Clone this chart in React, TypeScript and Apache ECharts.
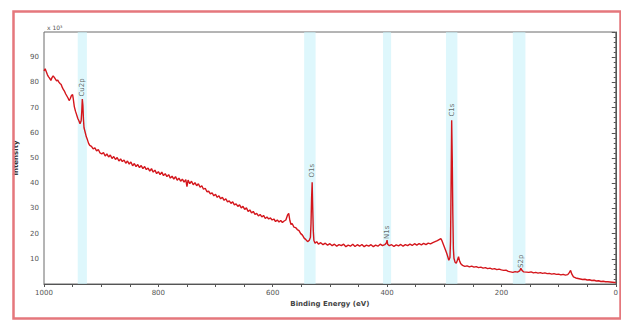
import React, { useEffect, useRef } from "react";
import * as echarts from "echarts";

const energies = [
  1000, 998, 996, 994, 992, 990, 988, 986, 984, 982, 980, 978, 976, 974, 972, 970, 968, 966, 964, 962,
  960, 958, 956, 954, 952, 950, 949, 947, 945, 943, 941, 939, 937, 935, 934, 933, 932, 931, 930, 928,
  926, 924, 922, 920, 917, 914, 911, 908, 905, 902, 899, 896, 893, 890, 887, 884, 881, 878, 875, 872,
  869, 866, 863, 860, 857, 854, 851, 848, 845, 842, 839, 836, 833, 830, 827, 824, 821, 818, 815, 812,
  809, 806, 803, 800, 797, 794, 791, 788, 785, 782, 779, 776, 773, 770, 767, 764, 761, 758, 755, 752,
  750, 748, 745, 742, 739, 736, 733, 730, 727, 724, 721, 718, 715, 712, 709, 706, 703, 700, 697, 694,
  691, 688, 685, 682, 679, 676, 673, 670, 667, 664, 661, 658, 655, 652, 649, 646, 643, 640, 637, 634,
  631, 628, 625, 622, 619, 616, 613, 610, 607, 604, 601, 598, 595, 592, 589, 586, 583, 580, 577, 574,
  572, 570, 568, 566, 563, 560, 557, 554, 551, 548, 545, 542, 539, 536, 534, 533, 532, 531, 530, 529,
  528, 526, 523, 520, 516, 512, 508, 504, 500, 496, 492, 488, 484, 480, 476, 472, 468, 464, 460, 456,
  452, 448, 444, 440, 436, 432, 428, 424, 420, 416, 412, 408, 404, 401, 400, 399, 396, 392, 388, 384,
  380, 376, 372, 368, 364, 360, 356, 352, 348, 344, 340, 336, 332, 328, 324, 320, 316, 312, 309, 306,
  304, 302, 300, 298, 296, 294, 292, 290, 289, 288, 287, 286, 285, 284, 283, 281, 279, 277, 275, 273,
  271, 268, 264, 260, 256, 252, 248, 244, 240, 236, 232, 228, 224, 220, 216, 212, 208, 204, 200, 196,
  192, 188, 184, 180, 176, 172, 168, 166, 164, 161, 156, 152, 148, 144, 140, 136, 132, 128, 124, 120,
  116, 112, 108, 104, 100, 96, 92, 88, 84, 81, 79, 77, 74, 70, 66, 62, 58, 54, 50, 46,
  42, 38, 34, 30, 26, 22, 18, 14, 10, 6, 2, 0,
];

const intensities = [
  84.6, 85.4, 84.2, 83.0, 82.2, 81.6, 80.8, 81.9, 82.6, 82.0, 81.3, 80.6, 80.9, 80.1, 79.6, 79.2, 78.0, 77.1, 76.4, 75.4,
  74.6, 73.8, 72.8, 73.6, 74.8, 75.2, 73.8, 70.4, 68.6, 67.2, 65.8, 64.8, 63.6, 64.8, 68.2, 73.4, 71.0, 65.4, 62.0, 60.2,
  58.4, 57.2, 55.8, 55.0, 54.6, 53.6, 54.0, 52.8, 53.4, 52.0, 51.6, 52.2, 50.8, 51.6, 50.4, 51.2, 49.8, 50.6, 49.4, 50.2,
  48.8, 49.6, 48.6, 49.2, 47.9, 48.8, 47.6, 48.4, 46.9, 47.8, 46.6, 47.4, 46.2, 47.0, 45.8, 46.6, 45.4, 46.0, 44.8, 45.8,
  44.4, 45.2, 43.8, 44.6, 43.4, 44.4, 43.0, 43.8, 42.6, 43.4, 42.0, 42.8, 41.6, 42.6, 41.2, 42.0, 40.8, 41.6, 40.4, 41.4,
  38.6, 41.2, 39.8, 40.8, 39.4, 40.2, 39.0, 39.8, 38.4, 39.0, 37.6, 38.0, 36.6, 36.8, 35.8, 36.2, 35.0, 35.6, 34.4, 35.0,
  33.8, 34.4, 33.2, 33.8, 32.6, 33.0, 32.0, 32.6, 31.4, 31.8, 30.8, 31.4, 30.2, 30.8, 29.6, 30.2, 28.8, 29.4, 28.2, 28.8,
  27.6, 28.0, 27.0, 27.6, 26.6, 27.2, 26.0, 26.6, 25.8, 26.2, 25.4, 25.8, 24.8, 25.4, 24.6, 25.2, 24.4, 25.0, 25.4, 27.4,
  28.0, 25.2, 23.6, 24.0, 22.6, 22.4, 21.6, 21.2, 20.0, 19.4, 18.2, 17.6, 16.8, 17.4, 18.6, 24.0, 34.0, 40.4, 30.0, 21.0,
  17.4, 16.2, 16.8, 15.8, 16.4, 15.6, 16.2, 15.4, 16.0, 15.2, 15.8, 15.0, 15.6, 15.2, 15.8, 14.8, 15.4, 15.0, 15.8, 14.9,
  15.6, 15.0, 15.7, 14.8, 15.4, 15.0, 15.6, 14.8, 15.4, 15.0, 15.8, 15.2, 15.6, 16.4, 17.4, 15.8, 15.2, 15.6, 14.9, 15.5,
  15.1, 15.7, 15.0, 15.6, 15.2, 15.8, 15.3, 16.0, 15.4, 16.0, 15.5, 16.1, 15.6, 16.2, 15.9, 16.4, 16.8, 17.2, 17.6, 18.0,
  17.2, 16.0, 14.8, 13.6, 12.4, 11.0, 9.4, 10.5, 17.0, 40.0, 65.0, 50.0, 28.0, 14.0, 10.2, 8.6, 8.2, 9.4, 10.8, 9.0,
  8.0, 7.4, 7.0, 7.2, 6.8, 7.1, 6.7, 6.9, 6.5, 6.7, 6.3, 6.5, 6.1, 6.3, 5.9, 6.1, 5.7, 5.9, 5.6, 5.4,
  5.5, 5.0, 4.8, 4.6, 4.9, 4.7, 5.2, 6.2, 5.4, 4.8, 4.7, 4.6, 4.8, 4.4, 4.6, 4.3, 4.5, 4.2, 4.4, 4.1,
  4.2, 3.9, 4.1, 3.8, 3.9, 3.6, 3.8, 3.5, 3.7, 4.6, 5.4, 4.0, 2.8, 2.4, 2.2, 2.0, 1.8, 1.9, 1.6, 1.7,
  1.4, 1.5, 1.2, 1.3, 1.0, 1.1, 0.9, 0.9, 0.8, 0.7, 0.6, 0.6,
];

const peakNames = ["Cu2p", "O1s", "N1s", "C1s", "S2p"];
const peakEnergies = [933, 531, 400, 287, 165];
const peakLabelY = [78, 45, 20.5, 69, 9];
const bandFrom = [941, 545, 407, 297, 180];
const bandTo = [925, 525, 393, 277, 158];

const xTicks = [1000, 800, 600, 400, 200, 0];
const yTicks = [10, 20, 30, 40, 50, 60, 70, 80, 90];

export default function App() {
  const ref = useRef<HTMLDivElement>(null);
  useEffect(() => {
    if (!ref.current) return;
    const chart = echarts.init(ref.current, null, { renderer: "svg" });
    const lineData = energies.map((e, i) => [e, intensities[i]]);
    const labelData = peakEnergies.map((e, i) => [e, peakLabelY[i], peakNames[i]]);
    const bands = bandFrom.map((f, i) => [{ xAxis: f }, { xAxis: bandTo[i] }]);
    chart.setOption({
      animation: false,
      backgroundColor: "#ffffff",
      textStyle: { fontFamily: "DejaVu Sans" },
      grid: {
        left: 44,
        right: 5,
        top: 32,
        bottom: 36,
        show: true,
        borderColor: "#6a6a6a",
        borderWidth: 1,
        backgroundColor: "transparent",
      },
      xAxis: {
        type: "value",
        inverse: true,
        min: 0,
        max: 1000,
        interval: 50,
        name: "Binding Energy (eV)",
        nameLocation: "middle",
        nameGap: 14,
        nameTextStyle: { fontSize: 7, color: "#444", fontWeight: "bold" },
        axisLine: { show: true, lineStyle: { color: "#555", width: 1 } },
        axisTick: { show: true, length: 3, lineStyle: { color: "#555" } },
        axisLabel: {
          fontSize: 7,
          color: "#555",
          margin: 5,
          formatter: (v: number) => (xTicks.indexOf(v) >= 0 ? String(v) : ""),
        },
        splitLine: { show: false },
      },
      yAxis: {
        type: "value",
        min: 0,
        max: 100,
        interval: 10,
        name: "Intensity",
        nameLocation: "middle",
        nameGap: 20,
        nameRotate: 90,
        nameTextStyle: { fontSize: 7, color: "#333", fontWeight: "bold" },
        axisLine: { show: true, lineStyle: { color: "#555", width: 1 } },
        axisTick: { show: true, length: 4, lineStyle: { color: "#555" } },
        minorTick: { show: true, splitNumber: 5, length: 2, lineStyle: { color: "#555" } },
        axisLabel: {
          fontSize: 7,
          color: "#555",
          margin: 5,
          formatter: (v: number) => (yTicks.indexOf(v) >= 0 ? String(v) : ""),
        },
        splitLine: { show: false },
      },
      series: [
        {
          type: "line",
          data: lineData,
          symbol: "none",
          lineStyle: { color: "#d4161c", width: 1.4 },
          z: 3,
          markArea: {
            silent: true,
            itemStyle: { color: "rgba(200,241,250,0.6)" },
            data: bands,
          },
        },
        {
          type: "scatter",
          data: labelData,
          symbol: "circle",
          symbolSize: 2,
          itemStyle: { color: "rgba(0,0,0,0)" },
          silent: true,
          z: 4,
          label: {
            show: true,
            position: "inside",
            rotate: 90,
            fontSize: 7,
            color: "#444",
            formatter: (p: any) => p.value[2],
          },
        },
      ],
      graphic: [
        {
          type: "rect",
          left: 11,
          top: 9,
          shape: { x: 0, y: 0, width: 607, height: 307 },
          style: { fill: "none", stroke: "#e5777c", lineWidth: 2.5 },
          z: 10,
        },
        {
          type: "text",
          left: 47,
          top: 24,
          style: { text: "x 10³", fontSize: 6, fill: "#555", fontFamily: "DejaVu Sans" },
        },
      ],
    });
    return () => chart.dispose();
  }, []);
  return (
    <div
      ref={ref}
      style={{ position: "fixed", left: 0, top: 0, width: 621, height: 320, background: "#fff" }}
    />
  );
}
